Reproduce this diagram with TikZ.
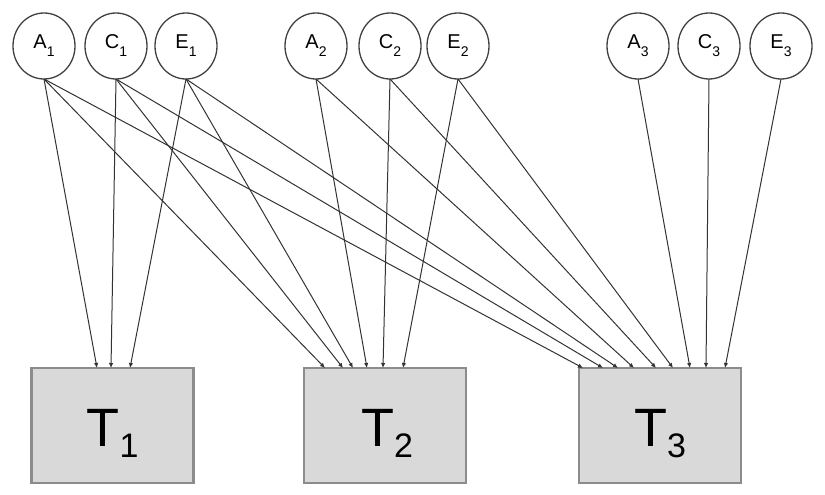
\documentclass[tikz,border=0pt]{standalone}
\usepackage{fontspec}
\setmainfont{Liberation Sans}
\usetikzlibrary{shapes.geometric,arrows.meta,calc}
\newcommand\csub[1]{\raisebox{-8pt}{\fontsize{14}{14}\selectfont #1}}
\newcommand\tsub[1]{\raisebox{-11pt}{\fontsize{34}{34}\selectfont #1}}
\begin{document}
\begin{tikzpicture}[x=1pt,y=-1pt,
  latent/.style={ellipse,draw=black!75,line width=1.3pt,minimum width=62pt,minimum height=66pt,inner sep=0pt,outer sep=0pt,font=\fontsize{20}{20}\selectfont},
  obs/.style={rectangle,draw=black!45,line width=2.5pt,fill=black!15,minimum width=162pt,minimum height=115pt,inner sep=0pt,outer sep=0pt},
  obslab/.style={font=\fontsize{54}{54}\selectfont,inner sep=0pt},
  pathar/.style={draw=black!80,line width=1pt,-{Latex[length=5pt,width=4.5pt]}}]
\useasboundingbox (0,0) rectangle (825,495);
% latent variables
\node[latent] (A1) at (44,46) {A\csub{1}};
\node[latent] (C1) at (116,46) {C\csub{1}};
\node[latent] (E1) at (186,46) {E\csub{1}};
\node[latent] (A2) at (316,46) {A\csub{2}};
\node[latent] (C2) at (390,46) {C\csub{2}};
\node[latent] (E2) at (458,46) {E\csub{2}};
\node[latent] (A3) at (638,46) {A\csub{3}};
\node[latent] (C3) at (709,46) {C\csub{3}};
\node[latent] (E3) at (781,46) {E\csub{3}};
% observed
\node[obs] (T1) at (112.5,425.5) {};
\node[obs] (T2) at (385,425.5) {};
\node[obs] (T3) at (660,425.5) {};
\node[obslab] (L1) at ($(T1.center)+(0,7.7)$) {T\tsub{1}};
\node[obslab] (L2) at ($(T2.center)+(2,7.7)$) {T\tsub{2}};
\node[obslab] (L3) at ($(T3.center)+(0,7.7)$) {T\tsub{3}};
% paths to T1
\draw[pathar] (A1.south) -- ($(T1.north)+(-15.5,0)$);
\draw[pathar] (C1.south) -- ($(T1.north)+(-1.5,0)$);
\draw[pathar] (E1.south) -- ($(T1.north)+(17.5,0)$);
% paths to T2
\draw[pathar] (A1.south) -- ($(T2.north)+(-60,0)$);
\draw[pathar] (C1.south) -- ($(T2.north)+(-42,0)$);
\draw[pathar] (E1.south) -- ($(T2.north)+(-32,0)$);
\draw[pathar] (A2.south) -- ($(T2.north)+(-18,0)$);
\draw[pathar] (C2.south) -- ($(T2.north)+(-2,0)$);
\draw[pathar] (E2.south) -- ($(T2.north)+(18,0)$);
% paths to T3
\draw[pathar] (A1.south) -- ($(T3.north)+(-77,0)$);
\draw[pathar] (C1.south) -- ($(T3.north)+(-57,0)$);
\draw[pathar] (E1.south) -- ($(T3.north)+(-42,0)$);
\draw[pathar] (A2.south) -- ($(T3.north)+(-26,0)$);
\draw[pathar] (C2.south) -- ($(T3.north)+(-4,0)$);
\draw[pathar] (E2.south) -- ($(T3.north)+(13,0)$);
\draw[pathar] (A3.south) -- ($(T3.north)+(30,0)$);
\draw[pathar] (C3.south) -- ($(T3.north)+(46,0)$);
\draw[pathar] (E3.south) -- ($(T3.north)+(65,0)$);
\end{tikzpicture}
\end{document}
